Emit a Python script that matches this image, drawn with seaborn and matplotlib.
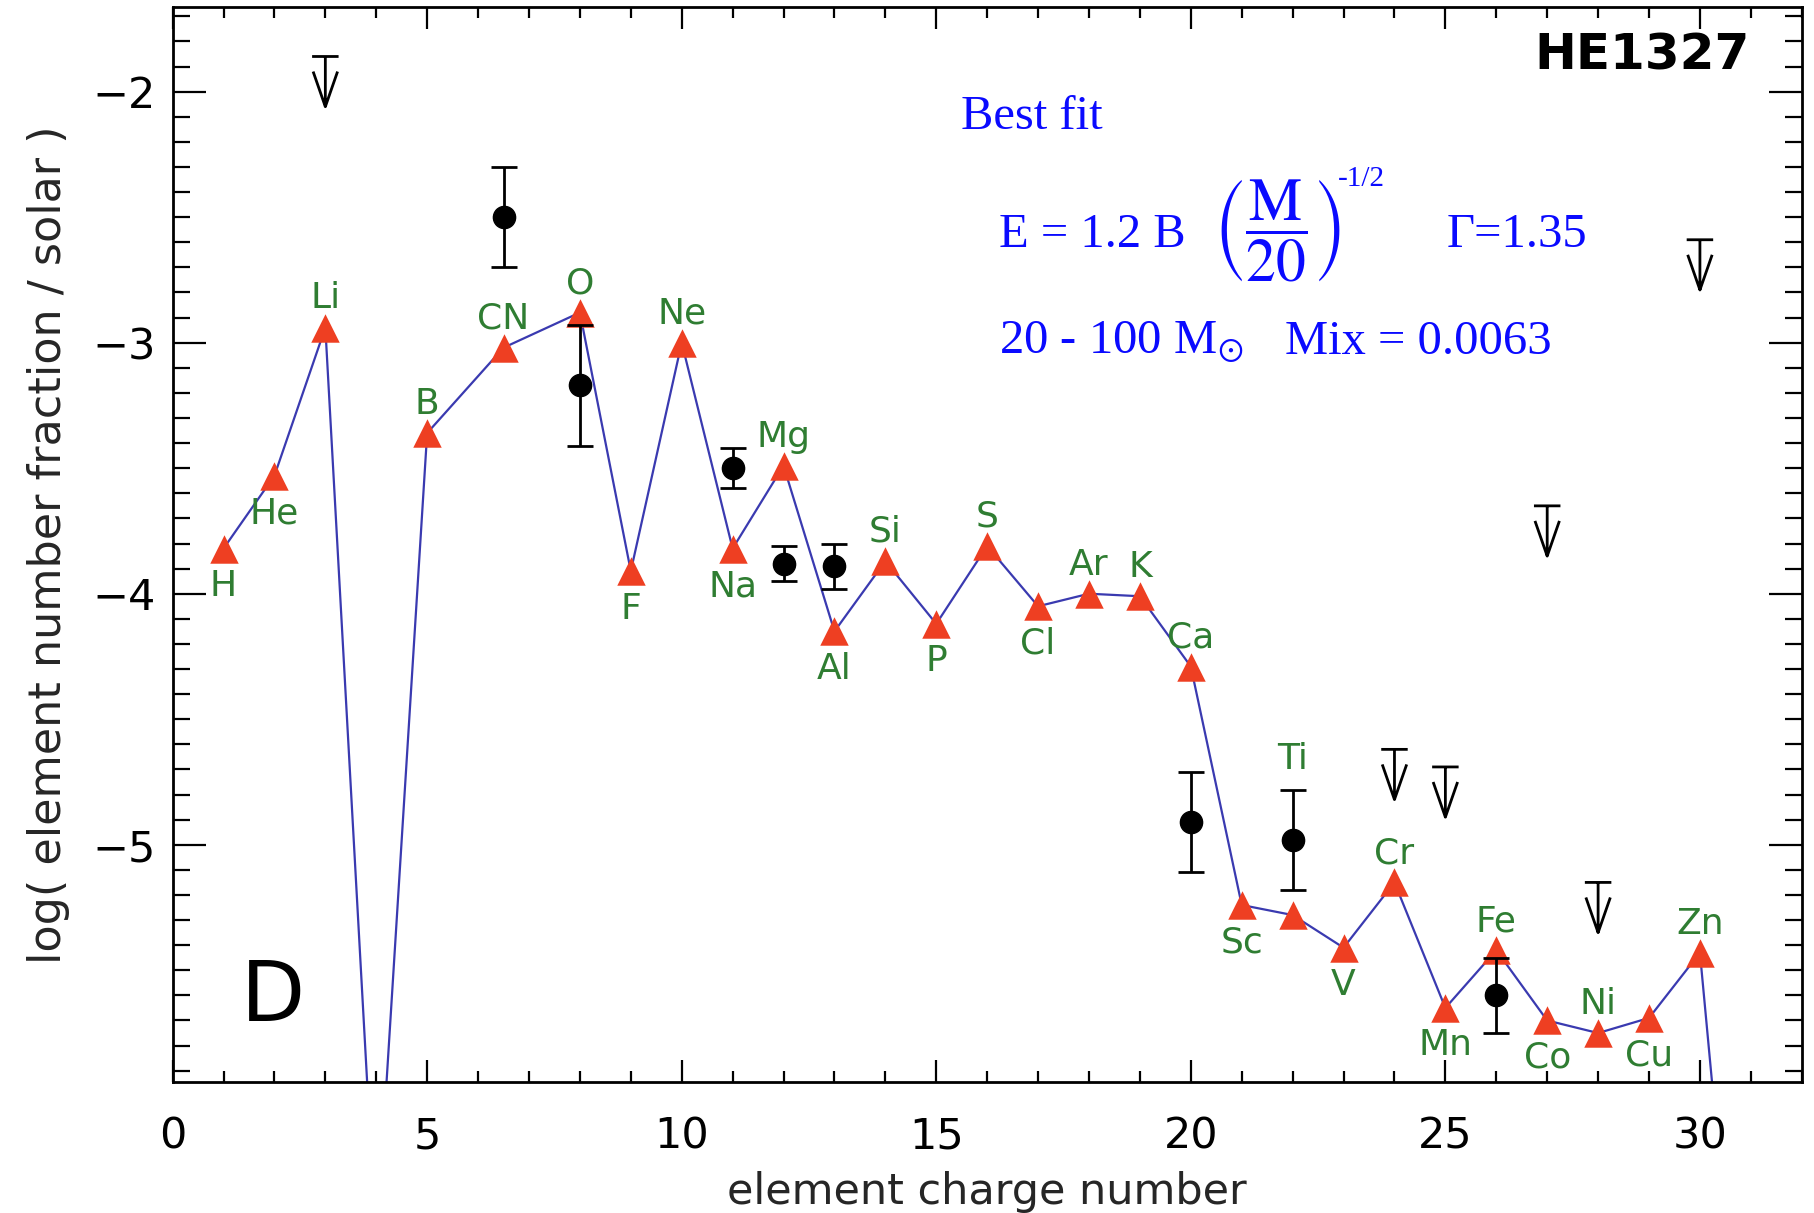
import numpy as np
import pandas as pd
import matplotlib
matplotlib.use("Agg")
import matplotlib.pyplot as plt
from matplotlib.ticker import MultipleLocator, FixedLocator
import seaborn as sns

# ---- model yields (red triangles joined by the blue line) ----
elements = ["H", "He", "Li", "Be", "B", "CN", "O", "F", "Ne", "Na", "Mg", "Al",
            "Si", "P", "S", "Cl", "Ar", "K", "Ca", "Sc", "Ti", "V", "Cr", "Mn",
            "Fe", "Co", "Ni", "Cu", "Zn", "Ga"]
charge = [1, 2, 3, 4, 5, 6.5, 8, 9, 10, 11, 12, 13, 14, 15, 16, 17, 18, 19, 20,
          21, 22, 23, 24, 25, 26, 27, 28, 29, 30, 31]
model_abund = [-3.82, -3.53, -2.94, -6.60, -3.36, -3.02, -2.88, -3.91, -3.00,
               -3.82, -3.49, -4.15, -3.87, -4.12, -3.81, -4.05, -4.00, -4.01,
               -4.29, -5.24, -5.28, -5.41, -5.15, -5.65, -5.42, -5.70, -5.75,
               -5.69, -5.43, -7.60]

# ---- observed abundances with error bars ----
obs_charge = [6.5, 8, 11, 12, 13, 20, 22, 26]
obs_abund = [-2.50, -3.17, -3.50, -3.88, -3.89, -4.91, -4.98, -5.60]
obs_err = [0.20, 0.24, 0.08, 0.07, 0.09, 0.20, 0.20, 0.15]

# ---- observed upper limits ----
ul_charge = [3, 24, 25, 27, 28, 30]
ul_abund = [-1.86, -4.62, -4.69, -3.65, -5.15, -2.59]

# element labels drawn underneath their triangle
below = {"H", "He", "F", "Na", "Al", "P", "Cl", "Sc", "V", "Mn", "Co", "Cu"}
special_offset = {"Ti": 112}

RED = "#ee3f22"
GREEN = "#2f7d32"
LINE_BLUE = "#3a3ab0"
TEXT_BLUE = "#0a0aff"

sns.set_theme(style="ticks")
plt.rcParams.update({
    "font.family": ["DejaVu Sans"],
    "mathtext.fontset": "stix",
    "axes.linewidth": 2.0,
    "axes.edgecolor": "black",
    "xtick.color": "black",
    "ytick.color": "black",
})

model = pd.DataFrame({"Z": charge, "abund": model_abund, "el": elements})

fig = plt.figure(figsize=(18.15, 12.13), dpi=100)
ax = fig.add_axes([0.0951, 0.108, 0.8976, 0.8862])

sns.lineplot(data=model, x="Z", y="abund", sort=False, color=LINE_BLUE,
             linewidth=1.6, ax=ax, zorder=2)
sns.scatterplot(data=model, x="Z", y="abund", marker="^", s=420, color=RED,
                linewidth=0, ax=ax, zorder=3)

ax.errorbar(obs_charge, obs_abund, yerr=obs_err, fmt="o", color="black",
            ms=16, capsize=9.5, capthick=2, elinewidth=2, zorder=5)

# upper-limit symbols: bar, stem and open arrowhead below each limit
half_bar, stem, arm_w, arm_start = 0.26, 0.20, 0.24, 0.06
ux, uy = [], []
for z, v in zip(ul_charge, ul_abund):
    ux += [z - half_bar, z + half_bar, np.nan, z, z, np.nan,
           z - arm_w, z, z + arm_w, np.nan]
    uy += [v, v, np.nan, v, v - stem, np.nan,
           v - arm_start, v - stem, v - arm_start, np.nan]
ax.plot(ux, uy, color="black", lw=2, zorder=5, solid_capstyle="butt")

for z, v, name in zip(charge, model_abund, elements):
    if name in special_offset:
        dy = special_offset[name]
    elif name in below:
        dy = -27
    else:
        dy = 21
    ax.annotate(name, (z, v), xytext=(0, dy), textcoords="offset points",
                ha="center", va="center", color=GREEN, fontsize=26, zorder=6)

ax.set_xlim(0, 32)
ax.set_ylim(-5.945, -1.663)
ax.xaxis.set_major_locator(FixedLocator([0, 5, 10, 15, 20, 25, 30]))
ax.xaxis.set_minor_locator(MultipleLocator(1))
ax.yaxis.set_major_locator(FixedLocator([-5, -4, -3, -2]))
ax.yaxis.set_minor_locator(MultipleLocator(0.1))
ax.tick_params(which="both", direction="in", top=True, right=True, width=1.6)
ax.tick_params(axis="x", which="major", length=16, pad=24, labelsize=31)
ax.tick_params(axis="x", which="minor", length=8)
ax.tick_params(axis="y", which="major", length=24, pad=12, labelsize=31)
ax.tick_params(axis="y", which="minor", length=12.5)

ax.set_xlabel("element charge number", fontsize=31)
ax.set_ylabel("log( element number fraction / solar )", fontsize=32)
ax.xaxis.set_label_coords(0.5, -0.083)
ax.yaxis.set_label_coords(-0.063, 0.5)
ax.xaxis.label.set_va("top")

def fx(px):
    return (px - 148) / 1409

def fy(py):
    return (935 - py) / 927

ax.text(fx(1512), fy(50), "HE1327", transform=ax.transAxes, ha="right",
        va="center", fontsize=36, fontweight="bold", color="black")
ax.text(fx(235), fy(862), "D", transform=ax.transAxes, ha="center",
        va="center", fontsize=60, color="black")

serif = "Liberation Serif"
ax.text(fx(830), fy(113), "Best fit", transform=ax.transAxes, ha="left",
        va="baseline", fontsize=35, color=TEXT_BLUE, family=serif)
ax.text(fx(863), fy(215), "E = 1.2 B", transform=ax.transAxes, ha="left",
        va="baseline", fontsize=35, color=TEXT_BLUE, family=serif)
ax.text(fx(1048), fy(200), r"$\left(\dfrac{\mathrm{M}}{20}\right)$",
        transform=ax.transAxes, ha="left", va="center", fontsize=43,
        color=TEXT_BLUE)
ax.text(fx(1156), fy(156), "-1/2", transform=ax.transAxes, ha="left",
        va="center", fontsize=21, color=TEXT_BLUE, family=serif)
ax.text(fx(1250), fy(215), "\u0393=1.35", transform=ax.transAxes, ha="left",
        va="baseline", fontsize=35, color=TEXT_BLUE, family=serif)
ax.text(fx(863), fy(307), r"20 - 100 M$_{\odot}$", transform=ax.transAxes,
        ha="left", va="baseline", fontsize=35, color=TEXT_BLUE, family=serif)
ax.text(fx(1110), fy(307), "Mix = 0.0063", transform=ax.transAxes, ha="left",
        va="baseline", fontsize=35, color=TEXT_BLUE, family=serif)

fig.savefig("out.png", dpi=100)
